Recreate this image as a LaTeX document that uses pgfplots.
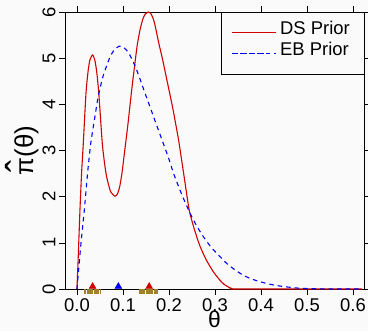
\documentclass[border=0pt]{standalone}
\usepackage{pgfplots}
\pgfplotsset{compat=1.18}
\usepackage{graphicx}
\usepackage{fontspec}
\setmainfont{Liberation Sans}
\usetikzlibrary{backgrounds}
\definecolor{bg}{HTML}{FAFAFA}
\definecolor{dsred}{HTML}{D00000}
\definecolor{ebblue}{HTML}{0000FF}
\definecolor{rug}{HTML}{A0802A}
\newcommand{\pihat}{{\ooalign{π\cr\hidewidth\raisebox{-0.08em}{\scalebox{1.4}[1.6]{ˆ}}\hidewidth\cr}}}
\begin{document}
\begin{tikzpicture}
\begin{axis}[
  name=ax,
  scale only axis,
  width=299bp, height=277bp,
  xmin=-0.026, xmax=0.624,
  ymin=0, ymax=6,
  xtick={0,0.1,0.2,0.3,0.4,0.5,0.6},
  ytick={0,1,2,3,4,5,6},
  /pgf/number format/assume math mode=true,
  xticklabel style={/pgf/number format/.cd,fixed,fixed zerofill,precision=1},
  tick label style={font=\fontsize{18.5}{20}\selectfont},
  yticklabel style={rotate=90, anchor=south, /pgf/number format/.cd,fixed,precision=0},
  tick align=outside,
  major tick length=6bp,
  tick style={black, line width=0.6pt},
  axis line style={black, line width=0.6pt},
  axis background/.style={fill=bg},
  xlabel={θ},
  ylabel={\pihat(θ)},
  xlabel style={font=\fontsize{23}{24}\selectfont, yshift=8bp},
  ylabel style={font=\fontsize{26}{27}\selectfont, yshift=-3bp},
  clip=false,
  legend style={at={(1,1)}, anchor=north east, draw=black, fill=bg,
    font=\fontsize{18.5}{19}\selectfont, inner xsep=10bp, inner ysep=11bp,
    row sep=2bp, cells={anchor=west},
    nodes={inner xsep=4bp, inner ysep=2bp, text height=9bp, text depth=6bp}},
  legend image code/.code={\path (-2bp,0bp) -- (42bp,0bp); \draw[#1] (0bp,0bp) -- (34bp,0bp);},
]
\addplot[dsred, line width=1.1pt, smooth, tension=0.35] coordinates {
(0,0) (0.003,0.75) (0.0065,1.71) (0.010,2.50) (0.0138,3.16) (0.0196,4.24) (0.024,4.70) (0.028,4.96) (0.034,5.07)
(0.039,4.95) (0.043,4.70) (0.047,4.30) (0.050,3.88) (0.055,3.16) (0.060,2.72) (0.0645,2.43) (0.073,2.11) (0.0826,2.01)
(0.088,2.06) (0.093,2.22) (0.098,2.52) (0.104,3.01) (0.110,3.50) (0.115,3.95) (0.120,4.40) (0.126,4.89) (0.131,5.28) (0.137,5.61) (0.143,5.84) (0.148,5.95)
(0.155,6.0) (0.161,5.96) (0.166,5.85) (0.170,5.70) (0.178,5.32) (0.186,4.98) (0.195,4.55) (0.202,4.22) (0.209,3.88) (0.216,3.50) (0.222,3.16)
(0.233,2.43) (0.244,1.71) (0.255,1.30) (0.267,0.94) (0.280,0.65) (0.296,0.38) (0.31,0.20) (0.32,0.10) (0.33,0.04) (0.338,0.005) (0.345,0)
(0.62,0)
};
\addlegendentry{DS Prior}
\addplot[ebblue, line width=1.1pt, dash pattern=on 4.5bp off 4bp, smooth, tension=0.35] coordinates {
(0,0) (0.0087,0.99) (0.016,1.71) (0.023,2.50) (0.030,3.16) (0.039,3.73) (0.046,4.16)
(0.057,4.62) (0.072,5.03) (0.082,5.19) (0.092,5.26) (0.102,5.23) (0.112,5.12) (0.126,4.84) (0.137,4.55) (0.148,4.24)
(0.159,3.94) (0.172,3.58) (0.186,3.20) (0.199,2.84) (0.212,2.45) (0.229,2.02) (0.246,1.64) (0.260,1.37) (0.275,1.13) (0.292,0.90) (0.311,0.70)
(0.325,0.56) (0.340,0.44) (0.358,0.32) (0.376,0.23) (0.394,0.17) (0.412,0.12) (0.434,0.075) (0.456,0.045) (0.48,0.02) (0.50,0.01) (0.53,0.003) (0.56,0) (0.62,0)
};
\addlegendentry{EB Prior}
\addplot[rug, only marks, mark=|, mark size=2.5bp, line width=0.9pt, yshift=-2.5bp, forget plot] coordinates {
(0.017,0) (0.0195,0) (0.022,0) (0.0245,0) (0.027,0) (0.0295,0) (0.032,0) (0.0345,0)
(0.037,0) (0.0395,0) (0.042,0) (0.0445,0) (0.047,0) (0.050,0)
(0.135,0) (0.1375,0) (0.140,0) (0.1425,0) (0.145,0) (0.1475,0) (0.150,0) (0.1525,0)
(0.155,0) (0.1575,0) (0.160,0) (0.1625,0) (0.165,0) (0.1675,0) (0.170,0) (0.1725,0) (0.175,0)
};
\addplot[only marks, mark=triangle*, mark size=4bp, color=dsred, yshift=2.5bp, forget plot] coordinates {(0.034,0) (0.157,0)};
\addplot[only marks, mark=triangle*, mark size=4bp, color=ebblue, yshift=2.5bp, forget plot] coordinates {(0.090,0)};
\end{axis}
\pgfresetboundingbox
\begin{scope}[on background layer]
\fill[bg] ([xshift=-65bp,yshift=-42bp]ax.south west) rectangle ([xshift=4bp,yshift=12bp]ax.north east);
\end{scope}
\path[use as bounding box] ([xshift=-65bp,yshift=-42bp]ax.south west) rectangle ([xshift=4bp,yshift=12bp]ax.north east);
\end{tikzpicture}
\end{document}
